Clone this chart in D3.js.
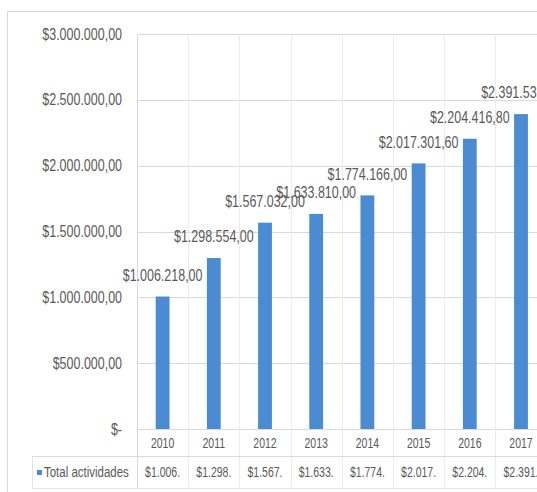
<!DOCTYPE html>
<html>
<head>
<meta charset="utf-8">
<script src="https://cdn.jsdelivr.net/npm/d3@7/dist/d3.min.js"></script>
<style>
  html, body { margin: 0; padding: 0; background: #fff; }
  svg { display: block; }
  text { font-family: "Liberation Sans", Arial, sans-serif; fill: #595959; }
</style>
</head>
<body>
<svg id="chart" width="537" height="492"></svg>
<script>
// Total de actividades por año
const years = ["2010", "2011", "2012", "2013", "2014", "2015", "2016", "2017"];
const totals = [1006218.00, 1298554.00, 1567032.00, 1633810.00, 1774166.00, 2017301.60, 2204416.80, 2391532.00];
const seriesName = "Total actividades";
const yTicks = [0, 500000, 1000000, 1500000, 2000000, 2500000, 3000000];

const locale = d3.formatLocale({ decimal: ",", thousands: ".", grouping: [3], currency: ["$", ""] });
const money = locale.format("$,.2f");
const moneyLabel = v => v === 0 ? "$-" : money(v);

const svg = d3.select("#chart");
const W = 537, H = 492;
const plotLeft = 137, plotTop = 34, plotBottom = 429;
const step = 51.2;
const plotRight = plotLeft + step * years.length;
const tableRow = 456, tableBottom = 488;
const blue = "#4a8bd2";
const fontStack = "\"Liberation Sans\", Arial, sans-serif";

const y = d3.scaleLinear().domain([0, 3000000]).range([plotBottom, plotTop]);
const slot = d3.scaleBand().domain(years).range([plotLeft, plotRight]).padding(0);
const x = d3.scaleBand().domain(years).range([plotLeft, plotRight])
  .paddingInner(0.73).paddingOuter(0.365);

// place a horizontally condensed text at (px, py)
function narrowText(g, px, py, str, size, sx, anchor) {
  return g.append("text")
    .attr("transform", `translate(${px},${py}) scale(${sx},1)`)
    .attr("text-anchor", anchor || "middle")
    .attr("dominant-baseline", "middle")
    .style("font-size", size + "px")
    .text(str);
}

// chart frame
svg.append("rect")
  .attr("x", 7.5).attr("y", 11.5).attr("width", W + 20).attr("height", H + 20)
  .attr("fill", "#fff").attr("stroke", "#d9d9d9");

// horizontal gridlines
svg.append("g").selectAll("line").data(yTicks).join("line")
  .attr("x1", plotLeft).attr("x2", plotRight)
  .attr("y1", d => Math.round(y(d)) + 0.5).attr("y2", d => Math.round(y(d)) + 0.5)
  .attr("stroke", "#d9d9d9");

// category boundaries through plot and data table
const bounds = years.map(d => slot(d)).concat([plotRight]);
svg.append("g").selectAll("line").data(bounds).join("line")
  .attr("x1", d => Math.round(d) + 0.5).attr("x2", d => Math.round(d) + 0.5)
  .attr("y1", plotTop).attr("y2", tableBottom)
  .attr("stroke", (d, i) => i === 0 ? "#d9d9d9" : "#ebebeb");

// data table: row separator and legend cell
svg.append("line")
  .attr("x1", 32).attr("x2", W).attr("y1", tableRow + 0.5).attr("y2", tableRow + 0.5)
  .attr("stroke", "#d9d9d9");
svg.append("line")
  .attr("x1", 32.5).attr("x2", 32.5).attr("y1", tableRow).attr("y2", tableBottom)
  .attr("stroke", "#e3e3e3");
svg.append("line")
  .attr("x1", 32).attr("x2", W).attr("y1", tableBottom + 0.5).attr("y2", tableBottom + 0.5)
  .attr("stroke", "#e3e3e3");

// y axis
const yAxis = svg.append("g")
  .attr("transform", `translate(${plotLeft - 15},0)`)
  .call(d3.axisLeft(y).tickValues(yTicks).tickFormat(moneyLabel).tickSize(0).tickPadding(0));
yAxis.select(".domain").remove();
yAxis.selectAll("text")
  .attr("transform", "scale(0.78,1)")
  .attr("fill", "#595959")
  .style("font-size", "16px")
  .style("font-family", fontStack);

// bars
svg.append("g").selectAll("rect").data(years).join("rect")
  .attr("x", d => x(d)).attr("width", x.bandwidth())
  .attr("y", (d, i) => y(totals[i])).attr("height", (d, i) => y(0) - y(totals[i]))
  .attr("fill", blue);

// value labels above the bars
const labels = svg.append("g");
years.forEach((d, i) => {
  narrowText(labels, x(d) + x.bandwidth() / 2, y(totals[i]) - 20, money(totals[i]), 16, 0.78);
});

// category axis
const xAxis = svg.append("g")
  .attr("transform", `translate(0,${plotBottom})`)
  .call(d3.axisBottom(slot).tickSize(0).tickPadding(9));
xAxis.select(".domain").remove();
xAxis.selectAll("text")
  .attr("transform", "scale(0.75,1)")
  .attr("fill", "#595959")
  .style("font-size", "14px")
  .style("font-family", fontStack);

// data table values (cells too narrow: truncated)
const table = svg.append("g");
years.forEach((d, i) => {
  narrowText(table, slot(d) + slot.bandwidth() / 2, 473, money(totals[i]).slice(0, 7), 14, 0.75);
});

// legend key and series name
svg.append("rect").attr("x", 37).attr("y", 470).attr("width", 5).attr("height", 5).attr("fill", blue);
narrowText(svg, 44, 473, seriesName, 14, 0.82, "start");
</script>
</body>
</html>
